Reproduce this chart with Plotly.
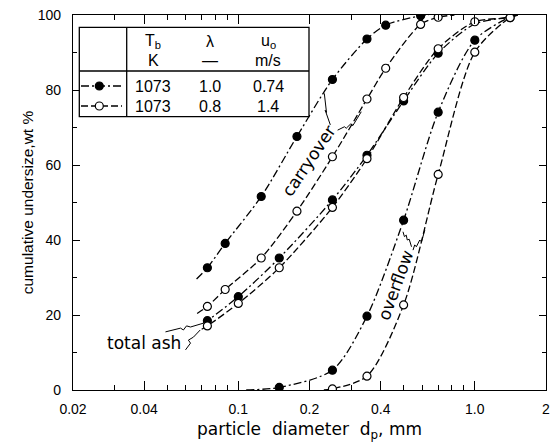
import numpy as np
import plotly.graph_objects as go

# ---------------- data ----------------
# carryover, filled symbols (lambda=1.0, u0=0.74)
carry_f_x = [0.074, 0.088, 0.125, 0.177, 0.25, 0.35, 0.42, 0.59]
carry_f_y = [32.6, 39.1, 51.6, 67.6, 82.8, 93.6, 97.3, 99.8]
# carryover, open symbols (lambda=0.8, u0=1.4)
carry_o_x = [0.074, 0.088, 0.125, 0.177, 0.25, 0.35, 0.42, 0.59, 0.70]
carry_o_y = [22.3, 26.8, 35.2, 47.7, 62.2, 77.6, 85.8, 97.5, 99.4]
# total ash
ash_f_x = [0.074, 0.10, 0.149, 0.25, 0.35, 0.50, 0.70]
ash_f_y = [18.5, 24.9, 35.2, 50.7, 62.6, 77.1, 89.8]
ash_o_x = [0.074, 0.10, 0.149, 0.25, 0.35, 0.50, 0.70, 1.0, 1.41]
ash_o_y = [17.1, 23.1, 32.6, 48.7, 61.7, 78.0, 91.0, 98.2, 99.3]
# overflow
over_f_x = [0.149, 0.25, 0.35, 0.50, 0.70, 1.0]
over_f_y = [0.7, 5.3, 19.7, 45.3, 74.1, 93.3]
over_o_x = [0.25, 0.35, 0.50, 0.70, 1.0, 1.41]
over_o_y = [0.3, 3.7, 22.7, 57.5, 90.1, 99.3]

# where the drawn curves start / end beyond the symbols
carry_f_start, carry_f_end = ([0.0666], [29.6]), ([0.64], [100.0])
carry_o_start, carry_o_end = ([0.067], [20.4]), ([0.82], [100.0])
ash_f_start, ash_f_end = ([0.071], [17.8]), ([1.0, 1.41, 1.52], [97.6, 99.5, 100.0])
ash_o_start, ash_o_end = ([0.070], [16.2]), ([1.52], [100.0])
over_f_start, over_f_end = ([0.108], [0.0]), ([1.41, 1.5], [99.5, 100.0])
over_o_start, over_o_end = ([0.23], [0.0]), ([1.52], [100.0])

# axis ticks
x_major = [0.02, 0.04, 0.1, 0.2, 0.4, 1.0, 2.0]
x_major_text = ["0.02", "0.04", "0.1", "0.2", "0.4", "1.0", "2"]
x_minor = [0.03, 0.05, 0.06, 0.07, 0.08, 0.09, 0.3, 0.5, 0.6, 0.7, 0.8, 0.9]
y_major = [0, 20, 40, 60, 80, 100]
y_minor = [10, 30, 50, 70, 90]

# legend table
leg_head1 = ["T<sub>b</sub>", "λ", "u<sub>o</sub>"]
leg_head2 = ["K", "—", "m/s"]
leg_row1 = ["1073", "1.0", "0.74"]
leg_row2 = ["1073", "0.8", "1.4"]

# leader lines from the curve labels (data coordinates)
lead_carry1 = ([0.231, 0.236, 0.233, 0.240, 0.245], [79.1, 74.0, 74.6, 72.4, 70.7])
lead_carry2 = ([0.263, 0.281, 0.286, 0.298, 0.305, 0.331], [69.3, 70.2, 69.8, 70.9, 70.5, 74.2])
lead_over1 = ([0.497, 0.504, 0.513, 0.518, 0.528, 0.540], [42.2, 40.9, 41.3, 40.0, 40.2, 38.2])
lead_over2 = ([0.548, 0.557, 0.566, 0.585, 0.595, 0.615], [37.3, 38.7, 38.2, 40.0, 39.5, 42.7])
lead_ash1 = ([0.0492, 0.0570, 0.0586, 0.0604, 0.0628, 0.071], [15.5, 16.5, 16.0, 17.1, 16.8, 17.8])
lead_ash2 = ([0.0598, 0.0628, 0.0615, 0.0646, 0.0690], [10.7, 12.5, 13.3, 14.1, 16.0])

# ---------------- figure ----------------
W, H = 555, 445
L, R, T, B = 73, 9, 15, 55
PW, PH = W - L - R, H - T - B


def pxp(px, py):
    """pixel position in the window -> paper fraction"""
    return (px - L) / PW, (H - B - py) / PH


DASHDOT = "8px,3px,2px,3px"
DASH = "7px,3px"
LW = 1.3
FONT = "Liberation Sans, Arial, sans-serif"
LABFONT = "DejaVu Sans, Liberation Sans, sans-serif"

fig = go.Figure()


def add_curve(xs, ys, start, end, dash, filled):
    lx = start[0] + xs + end[0]
    ly = start[1] + ys + end[1]
    fig.add_trace(go.Scatter(x=lx, y=ly, mode="lines",
                             line=dict(color="black", width=LW, dash=dash, shape="spline", smoothing=0.8),
                             hoverinfo="skip", showlegend=False))
    fig.add_trace(go.Scatter(x=xs, y=ys, mode="markers",
                             marker=dict(symbol="circle", size=8, color="black" if filled else "white",
                                         line=dict(color="black", width=1.2)),
                             hoverinfo="skip", showlegend=False))


add_curve(carry_f_x, carry_f_y, carry_f_start, carry_f_end, DASHDOT, True)
add_curve(carry_o_x, carry_o_y, carry_o_start, carry_o_end, DASH, False)
add_curve(ash_f_x, ash_f_y, ash_f_start, ash_f_end, DASHDOT, True)
add_curve(ash_o_x, ash_o_y, ash_o_start, ash_o_end, DASH, False)
add_curve(over_f_x, over_f_y, over_f_start, over_f_end, DASHDOT, True)
add_curve(over_o_x, over_o_y, over_o_start, over_o_end, DASH, False)

for lx, ly in [lead_carry1, lead_carry2, lead_over1, lead_over2, lead_ash1, lead_ash2]:
    fig.add_trace(go.Scatter(x=lx, y=ly, mode="lines", line=dict(color="black", width=1),
                             hoverinfo="skip", showlegend=False))

# curve labels
fig.add_annotation(x=np.log10(0.198), y=61.1, xref="x", yref="y", text="carryover", textangle=-56,
                   showarrow=False, font=dict(family=LABFONT, size=17, color="black"))
fig.add_annotation(x=np.log10(0.463), y=28.0, xref="x", yref="y", text="overflow", textangle=-70,
                   showarrow=False, font=dict(family=LABFONT, size=17, color="black"))
fig.add_annotation(x=np.log10(0.040), y=12.5, xref="x", yref="y", text="total ash",
                   showarrow=False, font=dict(family=LABFONT, size=17, color="black"))

# legend table
shapes = []
bx0, by0 = pxp(79.3, 116.7)
bx1, by1 = pxp(309, 27.3)
shapes.append(dict(type="rect", xref="paper", yref="paper", x0=bx0, y0=by0, x1=bx1, y1=by1,
                   line=dict(color="black", width=LW), fillcolor="white", layer="above"))
vx, _ = pxp(126.7, 0)
shapes.append(dict(type="line", xref="paper", yref="paper", x0=vx, x1=vx, y0=by0, y1=by1,
                   line=dict(color="black", width=LW), layer="above"))
_, hy = pxp(0, 71)
shapes.append(dict(type="line", xref="paper", yref="paper", x0=bx0, x1=bx1, y0=hy, y1=hy,
                   line=dict(color="black", width=LW), layer="above"))
for row_py, dash, filled in [(86, DASHDOT, True), (106, DASH, False)]:
    lx0, ly = pxp(81, row_py)
    lx1, _ = pxp(122, row_py)
    shapes.append(dict(type="line", xref="paper", yref="paper", x0=lx0, x1=lx1, y0=ly, y1=ly,
                       line=dict(color="black", width=LW, dash=dash), layer="above"))
    cx0, cy0 = pxp(99.3 - 4, row_py + 4)
    cx1, cy1 = pxp(99.3 + 4, row_py - 4)
    shapes.append(dict(type="circle", xref="paper", yref="paper", x0=cx0, x1=cx1, y0=cy0, y1=cy1,
                       line=dict(color="black", width=1.2), fillcolor="black" if filled else "white",
                       layer="above"))

col_px = [153, 210, 268]
for texts, row_py in [(leg_head1, 41.7), (leg_head2, 60), (leg_row1, 86), (leg_row2, 106)]:
    for t, cpx in zip(texts, col_px):
        ax, ay = pxp(cpx, row_py)
        fig.add_annotation(x=ax, y=ay, xref="paper", yref="paper", text=t, showarrow=False,
                           font=dict(family=FONT, size=16, color="black"), xanchor="center", yanchor="middle")

axis_common = dict(showline=True, linecolor="black", linewidth=LW, mirror="ticks", ticks="inside",
                   tickcolor="black", tickwidth=1, showgrid=False, zeroline=False,
                   tickfont=dict(family=FONT, size=14, color="black"))

fig.update_layout(
    width=W, height=H,
    margin=dict(l=L, r=R, t=T, b=B, autoexpand=False),
    plot_bgcolor="white", paper_bgcolor="white",
    showlegend=False,
    shapes=shapes,
    xaxis=dict(type="log", range=[np.log10(0.02), np.log10(2)], tickmode="array", tickvals=x_major,
               ticktext=x_major_text, ticklen=9, ticklabelstandoff=6,
               minor=dict(tickmode="array", tickvals=x_minor, ticks="inside", ticklen=5,
                          tickcolor="black", showgrid=False),
               title=dict(text="particle  diameter  d<sub>p</sub>, mm", standoff=7,
                          font=dict(family=LABFONT, size=17, color="black")),
               **axis_common),
    yaxis=dict(range=[0, 100], tickmode="array", tickvals=y_major, ticklen=7, ticklabelstandoff=8,
               minor=dict(tickmode="array", tickvals=y_minor, ticks="inside", ticklen=4,
                          tickcolor="black", showgrid=False),
               title=dict(text="cumulative undersize,wt %", standoff=0,
                          font=dict(family=FONT, size=15.5, color="black")),
               **axis_common),
)

fig.write_html("out.html", config={"displayModeBar": False},
               post_script="document.body.style.margin='0';")
